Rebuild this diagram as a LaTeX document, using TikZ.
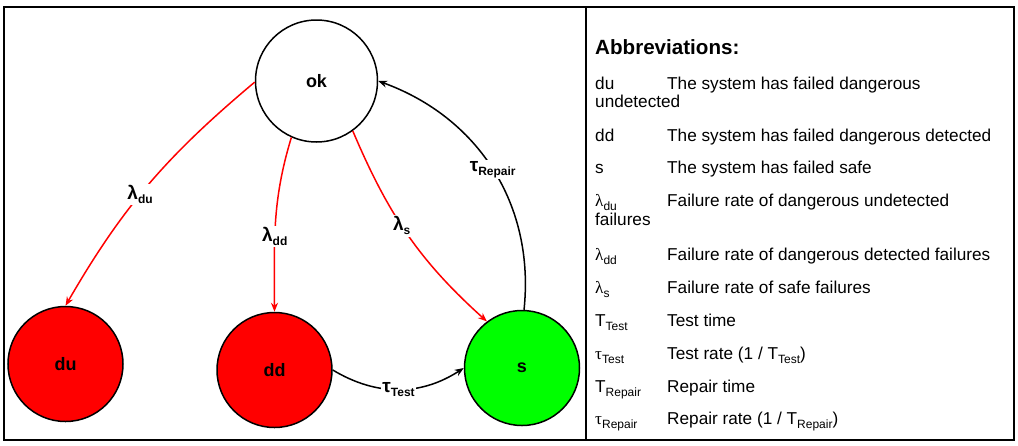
\documentclass[tikz,border=0pt]{standalone}
\usepackage{fontspec}
\setmainfont{Liberation Sans}
\newfontfamily\greekfont{Liberation Serif}
\usetikzlibrary{
    arrows.meta,
    positioning
}
\definecolor{failred}{RGB}{255,0,0}
\definecolor{safegreen}{RGB}{0,255,0}
\newcommand{\lowsub}[1]{\raisebox{-4pt}{\fontsize{12}{12}\selectfont #1}}
\tikzset{
    % States
    state/.style={
        circle,
        draw=black,
        line width=1.5pt,
        minimum size=115pt,
        inner sep=0pt,
        font=\bfseries\fontsize{18}{18}\selectfont
    },
    okstate/.style={state, fill=white, minimum size=122pt},
    failstate/.style={state, fill=failred},
    safestate/.style={state, fill=safegreen},
    % Transitions
    failarrow/.style={
        -{Stealth[length=9pt,width=7pt]},
        line width=1.5pt,
        draw=failred
    },
    backarrow/.style={
        -{Stealth[length=9pt,width=7pt]},
        line width=1.5pt,
        draw=black
    },
    ratelabel/.style={
        fill=white,
        inner sep=1.5pt,
        font=\bfseries\fontsize{19}{19}\selectfont
    },
    % Legend
    legtitle/.style={
        anchor=base west,
        inner sep=0pt,
        font=\bfseries\fontsize{20.6}{20.6}\selectfont
    },
    legkey/.style={
        anchor=base west,
        inner sep=0pt,
        font=\fontsize{17.2}{17.2}\selectfont
    }
}

\begin{document}
\begin{tikzpicture}[x=1pt, y=1pt]

    \useasboundingbox (0,0) rectangle (1018,-445);

    % Frame
    \draw[line width=2pt] (4,-7) rectangle (1014,-440);
    \draw[line width=2pt] (586,-7) -- (586,-440);

    % States
    \node[okstate] (ok) at (316.5,-81) {ok};
    \node[failstate] (du) at (65.5,-364) {du};
    \node[failstate] (dd) at (274.5,-370) {dd};
    \node[safestate] (s) at (522,-368) {s};

    % Failures
    \draw[failarrow] (ok.181) to[out=220, in=60]
        node[ratelabel, pos=0.55] (ldu) {λ\lowsub{du}} (du.90);
    \draw[failarrow] (ok.246) to[out=253, in=90]
        node[ratelabel, pos=0.58] (ldd) {λ\lowsub{dd}} (dd.90);
    \draw[failarrow] (ok.306) to[out=293, in=138]
        node[ratelabel, pos=0.45] (ls) {λ\lowsub{s}} (s.127);

    % Test and repair
    \draw[backarrow] (dd.0) to[out=-31, in=213]
        node[ratelabel] (ttest) {τ\lowsub{Test}} (s.180);
    \draw[backarrow] (s.88) to[out=84, in=340]
        node[ratelabel] (trepair) {τ\lowsub{Repair}} (ok.0);

    % Abbreviations
    \node[legtitle] (abbr) at (595,-54) {Abbreviations:};

    \node[legkey] (kdu) at (595,-89) {du};
    \node[legkey] (tdu) at (667,-89) {The system has failed dangerous};
    \node[legkey] (tdu2) at (595,-107) {undetected};

    \node[legkey] (kdd) at (595,-141) {dd};
    \node[legkey] (tdd) at (667,-141) {The system has failed dangerous detected};

    \node[legkey] (ks) at (595,-173) {s};
    \node[legkey] (ts) at (667,-173) {The system has failed safe};

    \node[legkey] (kldu) at (595,-206) {{\greekfont λ}\lowsub{du}};
    \node[legkey] (tldu) at (667,-206) {Failure rate of dangerous undetected};
    \node[legkey] (tldu2) at (595,-225) {failures};

    \node[legkey] (kldd) at (595,-260) {{\greekfont λ}\lowsub{dd}};
    \node[legkey] (tldd) at (667,-260) {Failure rate of dangerous detected failures};

    \node[legkey] (kls) at (595,-293) {{\greekfont λ}\lowsub{s}};
    \node[legkey] (tls) at (667,-293) {Failure rate of safe failures};

    \node[legkey] (kTtest) at (595,-326) {T\lowsub{Test}};
    \node[legkey] (tTtest) at (667,-326) {Test time};

    \node[legkey] (kttest) at (595,-359) {{\greekfont τ}\lowsub{Test}};
    \node[legkey] (tttest) at (667,-359) {Test rate (1 / T\lowsub{Test})};

    \node[legkey] (kTrep) at (595,-392) {T\lowsub{Repair}};
    \node[legkey] (tTrep) at (667,-392) {Repair time};

    \node[legkey] (ktrep) at (595,-424) {{\greekfont τ}\lowsub{Repair}};
    \node[legkey] (ttrep) at (667,-424) {Repair rate (1 / T\lowsub{Repair})};

\end{tikzpicture}
\end{document}
